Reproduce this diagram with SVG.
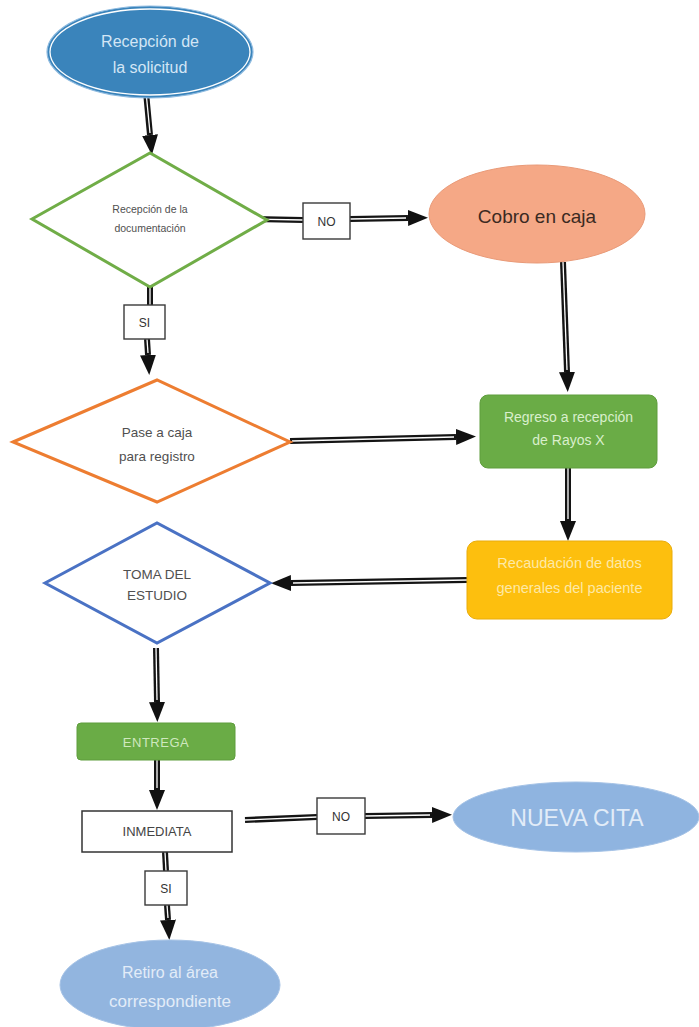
<svg xmlns="http://www.w3.org/2000/svg" width="699" height="1027" viewBox="0 0 699 1027">
  <defs>
    <marker id="head" viewBox="0 0 20 16" markerWidth="20" markerHeight="17" refX="0" refY="8" orient="auto" markerUnits="userSpaceOnUse">
      <path d="M0,0 L20,8 L0,16 Z" fill="#111"/>
    </marker>
    <style>
      text { font-family: "Liberation Sans", Arial, sans-serif; text-anchor: middle; }
      .rail { fill: none; stroke: #141414; stroke-width: 6; }
      .gap { fill: none; stroke: #ffffff; stroke-width: 1.3; }
      .arrow { marker-end: url(#head); }
      .tag rect { fill: #ffffff; stroke: #3a3a3a; stroke-width: 1.4; }
      .tag text { font-size: 12px; fill: #333; }
      .dtext { fill: #505050; }
    </style>
  </defs>
  <rect width="699" height="1027" fill="#ffffff"/>

  <!-- connectors: double rails, black outer with a white centre line -->
  <g id="connectors">
    <!-- start -> documentation check -->
    <path class="rail arrow" d="M146,92 L150,135"/>
    <path class="gap" d="M146,92 L150,133"/>
    <!-- documentation check -> NO -> cobro -->
    <path class="rail" d="M248,219 L303,220"/>
    <path class="gap" d="M248,219 L303,220"/>
    <path class="rail arrow" d="M350,219 L408,218"/>
    <path class="gap" d="M350,219 L406,218"/>
    <!-- documentation check -> SI -> pase a caja -->
    <path class="rail" d="M150,287 L150,305"/>
    <path class="gap" d="M150,287 L150,305"/>
    <path class="rail arrow" d="M147,339 L148,355"/>
    <path class="gap" d="M147,339 L148,353"/>
    <!-- cobro -> regreso -->
    <path class="rail arrow" d="M563,262 L567,372"/>
    <path class="gap" d="M563,262 L567,370"/>
    <!-- pase a caja -> regreso -->
    <path class="rail arrow" d="M290,441 L456,437"/>
    <path class="gap" d="M292,441 L454,437"/>
    <!-- regreso -> recaudacion -->
    <path class="rail arrow" d="M568,468 L568,521"/>
    <path class="gap" d="M568,468 L568,519"/>
    <!-- recaudacion -> toma del estudio -->
    <path class="rail arrow" d="M467,580 L291,583"/>
    <path class="gap" d="M467,580 L293,583"/>
    <!-- toma del estudio -> entrega -->
    <path class="rail arrow" d="M156,648 L157,702"/>
    <path class="gap" d="M156,648 L157,700"/>
    <!-- entrega -> inmediata -->
    <path class="rail arrow" d="M157,760 L157,790"/>
    <path class="gap" d="M157,760 L157,788"/>
    <!-- inmediata -> NO -> nueva cita -->
    <path class="rail" d="M245,820 L317,817"/>
    <path class="gap" d="M245,820 L317,817"/>
    <path class="rail arrow" d="M365,816 L432,815"/>
    <path class="gap" d="M365,816 L430,815"/>
    <!-- inmediata -> SI -> retiro -->
    <path class="rail" d="M165,852 L166,871"/>
    <path class="gap" d="M165,852 L166,871"/>
    <path class="rail arrow" d="M167,905 L168,920"/>
    <path class="gap" d="M167,905 L168,918"/>
  </g>

  <g id="inicio">
    <ellipse cx="150" cy="52" rx="103" ry="46" fill="#3a84bb" stroke="#8fbbe0" stroke-width="1.2"/>
    <ellipse cx="150" cy="52" rx="100" ry="43" fill="none" stroke="#ffffff" stroke-width="1.3"/>
    <text x="150" y="47" font-size="16" fill="#d3e6f5">Recepción de</text>
    <text x="150" y="73" font-size="16" fill="#d3e6f5">la solicitud</text>
  </g>

  <g id="documentacion">
    <polygon points="32,219 150,153 267,220 150,287" fill="#ffffff" stroke="#70ad47" stroke-width="3"/>
    <text class="dtext" x="150" y="213" font-size="10.5">Recepción de la</text>
    <text class="dtext" x="150" y="232" font-size="10.5">documentación</text>
  </g>

  <g id="no1" class="tag">
    <rect x="303" y="203" width="47" height="36"/>
    <text x="326.5" y="226">NO</text>
  </g>

  <g id="cobro">
    <ellipse cx="537" cy="214" rx="108" ry="49" fill="#f5a886" stroke="#e99a78" stroke-width="1"/>
    <text x="537" y="223" font-size="19" fill="#3b2a22">Cobro en caja</text>
  </g>

  <g id="si1" class="tag">
    <rect x="124" y="305" width="41" height="34"/>
    <text x="144.5" y="327">SI</text>
  </g>

  <g id="pase-caja">
    <polygon points="13,442 157,380 290,442 157,502" fill="#ffffff" stroke="#ed7d31" stroke-width="3"/>
    <text class="dtext" x="157" y="437" font-size="13.5">Pase a caja</text>
    <text class="dtext" x="157" y="461" font-size="13.5">para registro</text>
  </g>

  <g id="regreso">
    <rect x="480" y="395" width="177" height="73" rx="8" fill="#6aac46" stroke="#5f9d3d" stroke-width="1"/>
    <text x="568.5" y="422" font-size="14" fill="#d9efcc">Regreso a recepción</text>
    <text x="568.5" y="445" font-size="14" fill="#d9efcc">de Rayos X</text>
  </g>

  <g id="recaudacion">
    <rect x="467" y="541" width="205" height="78" rx="10" fill="#fdbf0e" stroke="#e9ac0a" stroke-width="1"/>
    <text x="569.5" y="568" font-size="14.5" fill="#fde9a6">Recaudación de datos</text>
    <text x="569.5" y="593" font-size="14.5" fill="#fde9a6">generales del paciente</text>
  </g>

  <g id="toma-estudio">
    <polygon points="45,583 157,523 270,583 157,643" fill="#ffffff" stroke="#4a72c4" stroke-width="3"/>
    <text class="dtext" x="157" y="579" font-size="13.5">TOMA DEL</text>
    <text class="dtext" x="157" y="600" font-size="13.5">ESTUDIO</text>
  </g>

  <g id="entrega">
    <rect x="77" y="723" width="158" height="37" rx="4" fill="#6aac46" stroke="#5f9d3d" stroke-width="1"/>
    <text x="156" y="747" font-size="13" fill="#cfe8bf" letter-spacing="0.5">ENTREGA</text>
  </g>

  <g id="inmediata">
    <rect x="82" y="811" width="150" height="41" fill="#ffffff" stroke="#333" stroke-width="1.5"/>
    <text x="157" y="836" font-size="13" fill="#444">INMEDIATA</text>
  </g>

  <g id="no2" class="tag">
    <rect x="317" y="798" width="48" height="36"/>
    <text x="341" y="821">NO</text>
  </g>

  <g id="nueva-cita">
    <ellipse cx="576" cy="817" rx="123" ry="35" fill="#8fb4e0" stroke="#a4c2e6" stroke-width="1"/>
    <text x="577" y="826" font-size="23" fill="#e2ecf8">NUEVA CITA</text>
  </g>

  <g id="si2" class="tag">
    <rect x="145" y="871" width="42" height="34"/>
    <text x="166" y="893">SI</text>
  </g>

  <g id="retiro">
    <ellipse cx="170" cy="985" rx="110" ry="45" fill="#92b5df" stroke="#a6c3e6" stroke-width="1"/>
    <text x="170" y="978" font-size="16" fill="#e2ecf8">Retiro al área</text>
    <text x="170" y="1007" font-size="17" fill="#e2ecf8">correspondiente</text>
  </g>
</svg>
